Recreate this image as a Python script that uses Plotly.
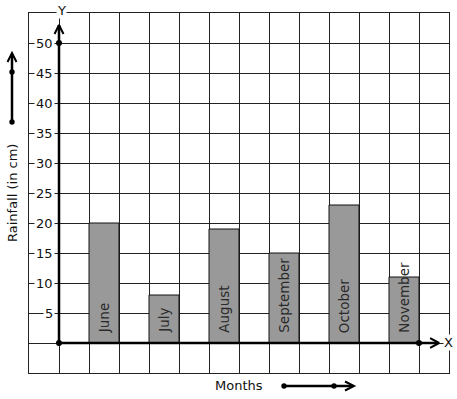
import plotly.graph_objects as go

months = ["June", "July", "August", "September", "October", "November"]
rainfall = [20, 8, 19, 15, 23, 11]
y_ticks = [5, 10, 15, 20, 25, 30, 35, 40, 45, 50]
y_tick_labels = ["5", "10", "15", "20", "25", "30", "35", "40", "45", "50"]

FONT = "DejaVu Sans"
W, H = 457, 399
ML, MR, MT, MB = 29, 8, 13, 26
PW = W - ML - MR
PH = H - MT - MB


def px(xp):
    return (xp - ML) / PW


def py(yp):
    return (H - MB - yp) / PH


bar_x = [2 * i + 1.5 for i in range(len(months))]

fig = go.Figure()
fig.add_trace(go.Bar(
    x=bar_x, y=rainfall, width=1,
    marker=dict(color="#999999", line=dict(color="#111111", width=1)),
    hoverinfo="skip", showlegend=False,
))

# Axes lines (thick) with arrowheads
fig.add_trace(go.Scatter(x=[0, 0], y=[0, 53], mode="lines",
                         line=dict(color="black", width=2.5), showlegend=False, hoverinfo="skip"))
fig.add_trace(go.Scatter(x=[-0.15, 0, 0.15], y=[51.5, 53, 51.5], mode="lines",
                         line=dict(color="black", width=2), showlegend=False, hoverinfo="skip"))
fig.add_trace(go.Scatter(x=[0, 12.6], y=[0, 0], mode="lines",
                         line=dict(color="black", width=2.5), showlegend=False, hoverinfo="skip"))
fig.add_trace(go.Scatter(x=[12.37, 12.67, 12.37], y=[0.8, 0, -0.8], mode="lines",
                         line=dict(color="black", width=2), showlegend=False, hoverinfo="skip"))
fig.add_trace(go.Scatter(x=[0, 0, 12], y=[0, 50, 0], mode="markers",
                         marker=dict(color="black", size=6), cliponaxis=False,
                         showlegend=False, hoverinfo="skip"))

annotations = []
# tick labels with white background over the grid
for v, t in zip(y_ticks, y_tick_labels):
    annotations.append(dict(x=-0.13, y=v, xref="x", yref="y", text=t, showarrow=False,
                            xanchor="right", yanchor="middle", bgcolor="white", borderpad=1,
                            font=dict(family=FONT, size=13, color="#111")))
# month labels inside bars
for xc, m in zip(bar_x, months):
    annotations.append(dict(x=xc, y=1.3, xref="x", yref="y", text=m, showarrow=False,
                            textangle=-90, xanchor="center", yanchor="bottom",
                            font=dict(family=FONT, size=13.5, color="#2a2a2a")))
# axis letters
annotations.append(dict(x=px(61), y=py(10), xref="paper", yref="paper", text="Y", showarrow=False,
                        xanchor="center", yanchor="middle", bgcolor="white", borderpad=0,
                        font=dict(family=FONT, size=13, color="#111")))
annotations.append(dict(x=px(448), y=py(342), xref="paper", yref="paper", text="X", showarrow=False,
                        xanchor="center", yanchor="middle", bgcolor="white", borderpad=0,
                        font=dict(family=FONT, size=13, color="#111")))
annotations.append(dict(x=px(12), y=py(193), xref="paper", yref="paper", text="Rainfall (in cm)",
                        showarrow=False, textangle=-90, xanchor="center", yanchor="middle",
                        font=dict(family=FONT, size=13, color="#111")))
annotations.append(dict(x=px(239), y=py(385), xref="paper", yref="paper", text="Months",
                        showarrow=False, xanchor="center", yanchor="middle",
                        font=dict(family=FONT, size=13, color="#111")))

LW = 2.5
shapes = [
    # left decorative arrow
    dict(type="line", xref="paper", yref="paper", x0=px(12), y0=py(122), x1=px(12), y1=py(54),
         line=dict(color="black", width=LW)),
    dict(type="path", xref="paper", yref="paper",
         path=f"M {px(7.5)} {py(62)} L {px(12)} {py(53)} L {px(16.5)} {py(62)}",
         line=dict(color="black", width=2)),
    # bottom decorative arrow
    dict(type="line", xref="paper", yref="paper", x0=px(284), y0=py(386), x1=px(353), y1=py(386),
         line=dict(color="black", width=LW)),
    dict(type="path", xref="paper", yref="paper",
         path=f"M {px(345)} {py(381.5)} L {px(354)} {py(386)} L {px(345)} {py(390.5)}",
         line=dict(color="black", width=2)),
]
for (cx, cy) in [(12, 122), (12, 72), (284, 386), (334, 386)]:
    shapes.append(dict(type="circle", xref="paper", yref="paper",
                       x0=px(cx - 2.7), x1=px(cx + 2.7), y0=py(cy + 2.7), y1=py(cy - 2.7),
                       fillcolor="black", line=dict(color="black", width=0)))

fig.update_layout(
    width=W, height=H,
    margin=dict(l=ML, r=MR, t=MT, b=MB, pad=0),
    paper_bgcolor="white", plot_bgcolor="white",
    font=dict(family=FONT),
    xaxis=dict(range=[-1, 13], dtick=1, tick0=0, showgrid=True, gridcolor="#222", gridwidth=1,
               zeroline=False, showticklabels=False, ticks="", showline=True, mirror=True,
               linecolor="#222", linewidth=1, fixedrange=True),
    yaxis=dict(range=[-5, 55], dtick=5, tick0=0, showgrid=True, gridcolor="#222", gridwidth=1,
               zeroline=False, showticklabels=False, ticks="", showline=True, mirror=True,
               linecolor="#222", linewidth=1, fixedrange=True),
    annotations=annotations,
    shapes=shapes,
    showlegend=False,
)

fig.write_html("out.html", config={"displayModeBar": False},
               post_script="document.body.style.margin='0';document.body.style.overflow='hidden';")
